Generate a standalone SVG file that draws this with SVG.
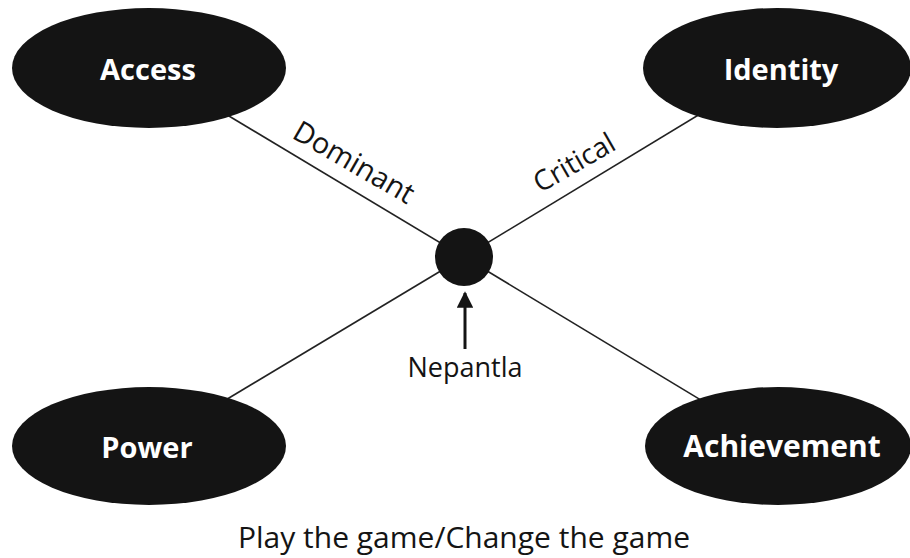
<svg xmlns="http://www.w3.org/2000/svg" width="910" height="558" viewBox="0 0 910 558">
<style>
.node{fill:#141414}
.nl{font-family:"Open Sans","Noto Sans",sans-serif;font-weight:bold;font-size:29px;fill:#fff;text-anchor:middle}
.lab{font-family:"Open Sans","Noto Sans",sans-serif;font-size:27px;fill:#141414;text-anchor:middle}
.conn{stroke:#222;stroke-width:1.6;fill:none}
</style>
<defs>
<marker id="ah" viewBox="0 0 10 10" refX="9" refY="5" markerWidth="5.5" markerHeight="5.5" orient="auto">
<path d="M0,0 L10,5 L0,10 Z" fill="#141414"/>
</marker>
</defs>
<rect width="910" height="558" fill="#fff"/>
<g id="connectors">
<line class="conn" x1="149" y1="68" x2="464" y2="257"/>
<line class="conn" x1="776" y1="68" x2="464" y2="257"/>
<line class="conn" x1="149" y1="446" x2="464" y2="257"/>
<line class="conn" x1="777" y1="446" x2="464" y2="257"/>
<line x1="465" y1="349" x2="465" y2="293" stroke="#141414" stroke-width="3" marker-end="url(#ah)"/>
<text class="lab" style="font-size:29px" transform="translate(349,171) rotate(30)">Dominant</text>
<text class="lab" style="font-size:28px" transform="translate(579,171) rotate(-30)">Critical</text>
</g>
<g id="access"><ellipse class="node" cx="149" cy="68" rx="137" ry="60"/><text class="nl" x="148" y="80">Access</text></g>
<g id="identity"><ellipse class="node" cx="777" cy="68" rx="134" ry="60"/><text class="nl" x="781" y="80">Identity</text></g>
<g id="power"><ellipse class="node" cx="149" cy="446" rx="137" ry="59"/><text class="nl" x="147" y="458">Power</text></g>
<g id="achievement"><ellipse class="node" cx="778" cy="446" rx="133" ry="59"/><text class="nl" style="font-size:30px" x="782" y="457">Achievement</text></g>
<g id="nepantla-node"><circle class="node" cx="464" cy="257" r="29"/></g>
<text class="lab" x="465" y="377">Nepantla</text>
<text class="lab" style="font-size:30px" x="464" y="548">Play the game/Change the game</text>
</svg>
